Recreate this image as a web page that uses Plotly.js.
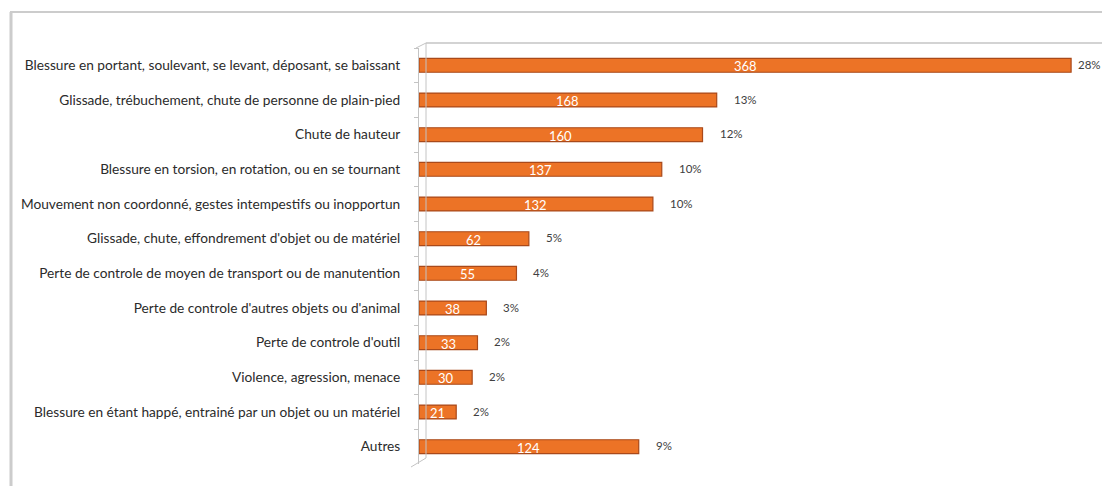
<!DOCTYPE html>
<html>
<head>
<meta charset="utf-8">
<script src="https://cdn.plot.ly/plotly-3.0.1.min.js"></script>
<style>
  html, body { margin: 0; padding: 0; background: #ffffff; }
  #chart { width: 1102px; height: 486px; }
</style>
</head>
<body>
<div id="chart"></div>
<script>
const categories = [
  "Blessure en portant, soulevant, se levant, déposant, se baissant",
  "Glissade, trébuchement, chute de personne de plain-pied",
  "Chute de hauteur",
  "Blessure en torsion, en rotation, ou en se tournant",
  "Mouvement non coordonné, gestes intempestifs ou inopportun",
  "Glissade, chute, effondrement d'objet ou de matériel",
  "Perte de controle de moyen de transport ou de manutention",
  "Perte de controle d'autres objets ou d'animal",
  "Perte de controle d'outil",
  "Violence, agression, menace",
  "Blessure en étant happé, entrainé par un objet ou un matériel",
  "Autres"
];
const values = [368, 168, 160, 137, 132, 62, 55, 38, 33, 30, 21, 124];
const percentLabels = ["28%", "13%", "12%", "10%", "10%", "5%", "4%", "3%", "2%", "2%", "2%", "9%"];

const W = 1102, H = 486;
const M = { l: 419, r: 0, t: 48, b: 22 };
const pw = W - M.l - M.r, ph = H - M.t - M.b;
const px2x = px => (px - M.l) / pw;
const py2y = py => 1 - (py - M.t) / ph;

const trace = {
  type: 'bar',
  orientation: 'h',
  y: categories,
  x: values,
  width: 0.4,
  marker: { color: '#EC7326', line: { color: '#A9491A', width: 1.2 } },
  hoverinfo: 'x+y',
  showlegend: false
};

const maxV = Math.max(...values);
const annotations = [];
values.forEach((v, i) => {
  annotations.push({
    x: v / 2, y: categories[i], xref: 'x', yref: 'y',
    text: String(v), showarrow: false, yshift: -1,
    font: { family: 'Lato, sans-serif', size: 13, color: '#ffffff' }
  });
  annotations.push({
    x: v, y: categories[i], xref: 'x', yref: 'y',
    text: percentLabels[i], showarrow: false, xanchor: 'left',
    xshift: v === maxV ? 5 : 15, yshift: 1,
    font: { family: 'Lato, sans-serif', size: 11.5, color: '#404040' }
  });
});

const gray = '#c4c4c4';
const shapes = [
  { type: 'line', xref: 'paper', yref: 'paper', x0: px2x(11), x1: px2x(11), y0: py2y(12), y1: py2y(490), line: { color: '#cccccc', width: 3 } },
  { type: 'line', xref: 'paper', yref: 'paper', x0: px2x(10), x1: px2x(1110), y0: py2y(12), y1: py2y(12), line: { color: '#cccccc', width: 2 } },
  { type: 'line', xref: 'paper', yref: 'paper', x0: px2x(426), x1: px2x(1110), y0: py2y(43), y1: py2y(43), line: { color: gray, width: 1.5 } },
  { type: 'line', xref: 'paper', yref: 'paper', x0: px2x(426), x1: px2x(426), y0: py2y(43), y1: py2y(458), line: { color: gray, width: 1 } },
  { type: 'line', xref: 'paper', yref: 'paper', x0: px2x(416), x1: px2x(426), y0: py2y(48), y1: py2y(43), line: { color: gray, width: 1 } },
  { type: 'line', xref: 'paper', yref: 'paper', x0: px2x(411), x1: px2x(426), y0: py2y(467), y1: py2y(458), line: { color: gray, width: 1 } }
];

const layout = {
  width: W, height: H,
  margin: M,
  paper_bgcolor: '#ffffff',
  plot_bgcolor: 'rgba(0,0,0,0)',
  xaxis: { range: [0, pw / 1.772], showgrid: false, zeroline: false, showticklabels: false, showline: false, ticks: '' },
  yaxis: {
    type: 'category', autorange: 'reversed',
    showgrid: false, zeroline: false,
    showline: true, linecolor: gray, linewidth: 1,
    ticks: 'outside', tickson: 'boundaries', ticklen: 4, tickcolor: gray,
    ticklabelstandoff: 15,
    tickfont: { family: 'Lato, sans-serif', size: 13.7, color: '#2b2b2b' }
  },
  annotations: annotations,
  shapes: shapes,
  bargap: 0.6
};

Plotly.newPlot('chart', [trace], layout, { displayModeBar: false, staticPlot: true });
</script>
</body>
</html>
